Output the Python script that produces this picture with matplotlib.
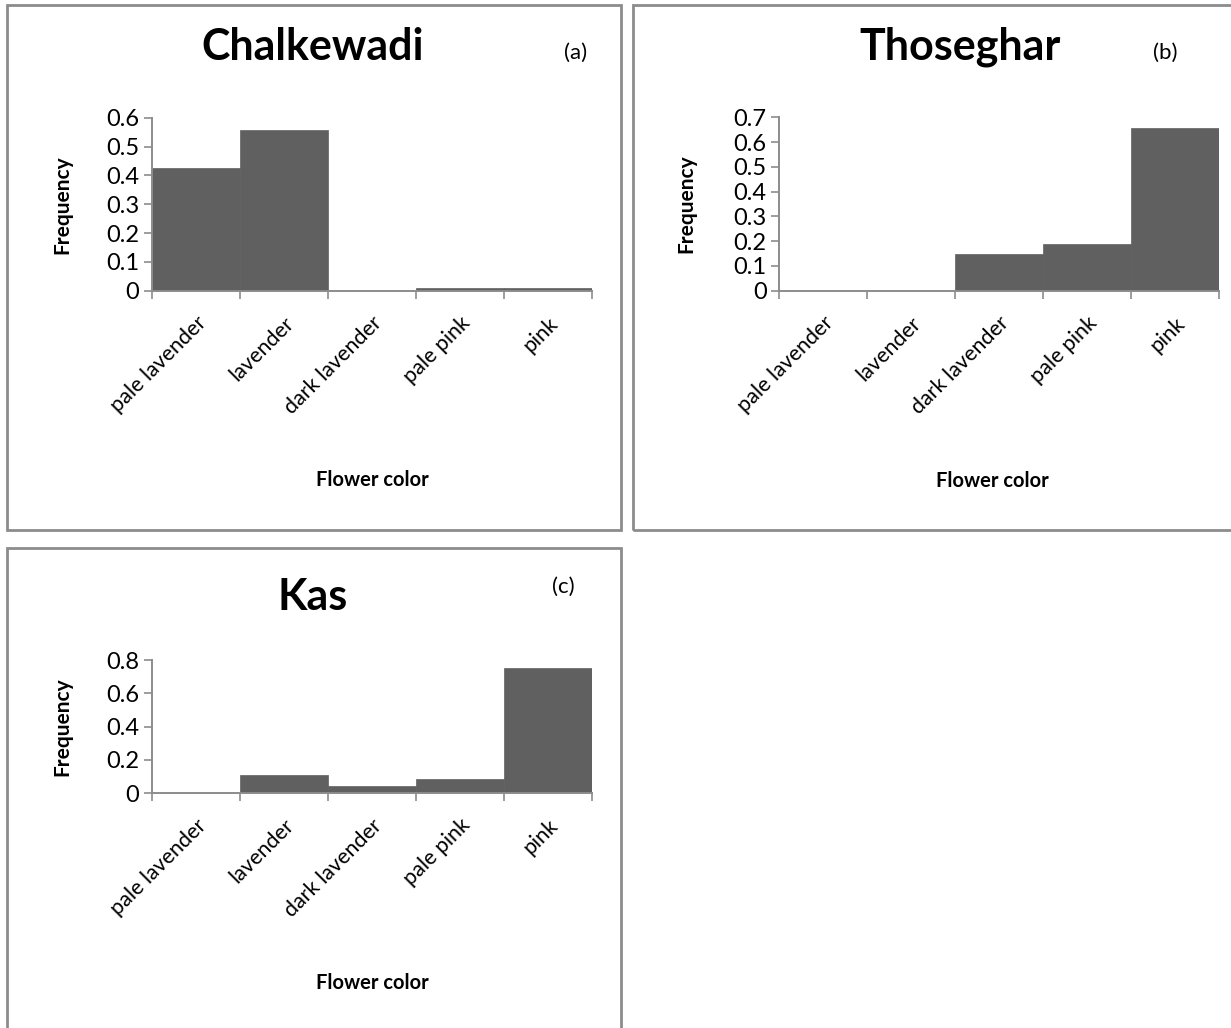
import matplotlib
matplotlib.use("Agg")
import matplotlib.pyplot as plt
from matplotlib.patches import Rectangle
import numpy as np

plt.rcParams['font.family'] = ['Lato', 'DejaVu Sans']

categories = ["pale lavender", "lavender", "dark lavender", "pale pink", "pink"]
chalkewadi = [0.424, 0.556, 0.0, 0.01, 0.01]
thoseghar = [0.0, 0.0, 0.147, 0.188, 0.658]
kas = [0.0, 0.11, 0.044, 0.083, 0.752]

titles = ["Chalkewadi", "Thoseghar", "Kas"]
tags = ["(a)", "(b)", "(c)"]
ymax = [0.6, 0.7, 0.8]
ysteps = [0.1, 0.1, 0.2]

W, H = 1231, 1028
fig = plt.figure(figsize=(W / 100, H / 100), dpi=100)

def fx(x):
    return x / W

def fy(y):
    return 1 - y / H

GRAY = "#8c8c8c"
BAR = "#606060"

# panel frames (pixel coordinates: left, top, right, bottom)
frames = [(7, 5, 621, 530), (633, 5, 1240, 530), (7, 548, 621, 1040)]
for (l, t, r, b) in frames:
    fig.patches.append(Rectangle((fx(l), fy(b)), fx(r - l), (b - t) / H,
                                 transform=fig.transFigure, fill=False,
                                 edgecolor=GRAY, linewidth=2.0, zorder=0))

# axes boxes (pixel): left, top(ymax), right, bottom(0)
boxes = [(152, 117.7, 592, 290.7), (779, 117.3, 1219, 290.7), (152, 660.3, 592, 793)]
data = [chalkewadi, thoseghar, kas]
title_pos = [(313, 47), (960, 47), (313, 597)]
tag_pos = [(576, 53), (1165, 53), (563, 587)]
ylab_x = [62, 686, 62]
xlab_pos = [(372, 480), (992, 481), (372, 983)]

for i in range(3):
    l, t, r, b = boxes[i]
    ax = fig.add_axes([fx(l), fy(b), (r - l) / W, (b - t) / H])
    x = np.arange(len(categories))
    ax.bar(x + 0.5, data[i], width=1.0, color=BAR, edgecolor=BAR, linewidth=0.5, zorder=2)
    ax.set_xlim(0, len(categories))
    ax.set_ylim(0, ymax[i])
    yt = np.round(np.arange(0, ymax[i] + 1e-9, ysteps[i]), 2)
    ax.set_yticks(yt)
    ax.set_yticklabels(["0" if v == 0 else f"{v:g}" for v in yt], fontsize=17)
    ax.set_xticks(np.arange(len(categories) + 1))
    ax.set_xticklabels([])
    ax.set_xticks(x + 0.5, minor=True)
    ax.set_xticklabels(categories, minor=True, rotation=45, ha='right', va='top',
                       rotation_mode='anchor', fontsize=15.5)
    ax.tick_params(axis='x', which='minor', length=0, pad=16)
    ax.tick_params(axis='both', which='major', length=6, width=1.2, color=GRAY, direction='out')
    ax.tick_params(axis='y', pad=3)
    for s in ['top', 'right']:
        ax.spines[s].set_visible(False)
    for s in ['left', 'bottom']:
        ax.spines[s].set_color(GRAY)
        ax.spines[s].set_linewidth(1.4)
    ax.set_facecolor('none')

    tx, ty = title_pos[i]
    fig.text(fx(tx), fy(ty), titles[i], ha='center', va='center', fontsize=31, fontweight='bold')
    gx, gy = tag_pos[i]
    fig.text(fx(gx), fy(gy), tags[i], ha='center', va='center', fontsize=16)
    fig.text(fx(ylab_x[i]), fy((t + b) / 2), "Frequency", rotation=90, ha='center', va='center',
             fontsize=15, fontweight='bold')
    lx, ly = xlab_pos[i]
    fig.text(fx(lx), fy(ly), "Flower color", ha='center', va='center', fontsize=14.5, fontweight='bold')

fig.savefig("out.png", dpi=100)
